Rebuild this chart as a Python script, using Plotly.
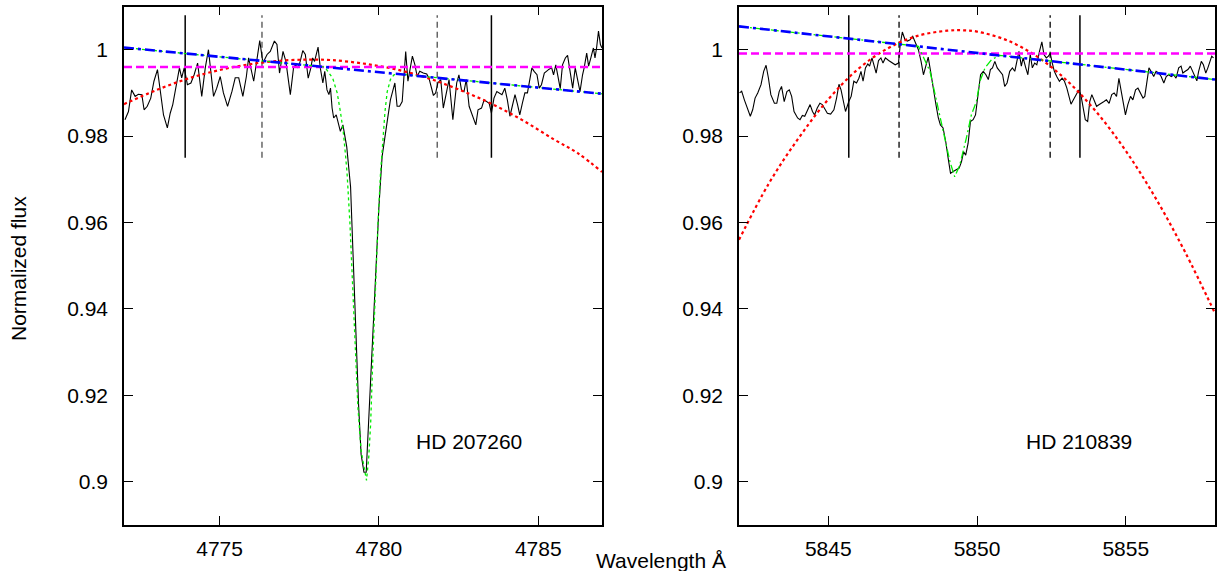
import plotly.graph_objects as go

# ---------------- Left panel: HD 207260 ----------------
left_wave = [
    4772.03, 4772.14, 4772.24, 4772.35, 4772.45, 4772.56, 4772.63, 4772.73, 4772.84, 4772.94,
    4773.05, 4773.13, 4773.24, 4773.36, 4773.45, 4773.53, 4773.64, 4773.74, 4773.81, 4773.89,
    4773.99, 4774.10, 4774.20, 4774.31, 4774.44, 4774.55, 4774.65, 4774.81, 4774.91, 4775.02,
    4775.12, 4775.25, 4775.39, 4775.49, 4775.60, 4775.73, 4775.84, 4775.91, 4776.07, 4776.17,
    4776.26, 4776.36, 4776.49, 4776.59, 4776.72, 4776.80, 4776.88, 4776.99, 4777.08, 4777.22,
    4777.32, 4777.38, 4777.46, 4777.53, 4777.61, 4777.69, 4777.78, 4777.85, 4777.92, 4777.98,
    4778.09, 4778.16, 4778.24, 4778.30, 4778.37, 4778.43, 4778.48, 4778.53, 4778.58, 4778.66,
    4778.72, 4778.79, 4778.87, 4778.93, 4778.99, 4779.11, 4779.18, 4779.26, 4779.36, 4779.44,
    4779.53, 4779.60, 4779.68, 4779.77, 4779.84, 4779.92, 4780.00, 4780.10, 4780.21, 4780.29,
    4780.36, 4780.44, 4780.50, 4780.57, 4780.65, 4780.73, 4780.78, 4780.84, 4780.91, 4780.97,
    4781.05, 4781.13, 4781.20, 4781.28, 4781.39, 4781.50, 4781.57, 4781.71, 4781.78, 4781.85,
    4781.94, 4782.02, 4782.13, 4782.20, 4782.32, 4782.44, 4782.51, 4782.59, 4782.67, 4782.74,
    4782.83, 4782.93, 4783.04, 4783.11, 4783.22, 4783.30, 4783.38, 4783.46, 4783.53, 4783.61,
    4783.70, 4783.78, 4783.86, 4783.95, 4784.03, 4784.11, 4784.19, 4784.27, 4784.35, 4784.42,
    4784.50, 4784.58, 4784.66, 4784.71, 4784.80, 4784.87, 4784.96, 4785.03, 4785.10, 4785.19,
    4785.27, 4785.34, 4785.42, 4785.48, 4785.55, 4785.63, 4785.69, 4785.76, 4785.85, 4785.92,
    4785.99, 4786.08, 4786.16, 4786.23, 4786.31, 4786.39, 4786.44, 4786.52, 4786.58, 4786.65,
    4786.73, 4786.78, 4786.83, 4786.89, 4786.95, 4787.00,
]
left_flux = [
    0.9838, 0.9857, 0.9907, 0.9892, 0.9897, 0.9896, 0.9861, 0.9869, 0.9888, 0.9927,
    0.9954, 0.9904, 0.9849, 0.9819, 0.9853, 0.9873, 0.9915, 0.9958, 0.9935, 0.9958,
    0.9919, 0.9923, 0.9942, 0.9969, 0.9892, 0.9958, 1.0000, 0.9892, 0.9911, 0.9938,
    0.9900, 0.9869, 0.9904, 0.9935, 0.9935, 0.9892, 0.9938, 0.9981, 0.9927, 0.9981,
    1.0021, 0.9969, 0.9989, 0.9996, 1.0020, 1.0012, 0.9946, 0.9996, 0.9973, 0.9896,
    0.9958, 0.9965, 0.9958, 0.9973, 0.9998, 0.9989, 0.9934, 0.9954, 0.9981, 0.9973,
    1.0006, 0.9958, 0.9923, 0.9950, 0.9907, 0.9896, 0.9911, 0.9865, 0.9842, 0.9849,
    0.9834, 0.9811, 0.9826, 0.9803, 0.9775, 0.9683, 0.9536, 0.9358, 0.9180, 0.9064,
    0.9022, 0.9022, 0.9134, 0.9265, 0.9389, 0.9513, 0.9637, 0.9753, 0.9803, 0.9849,
    0.9884, 0.9904, 0.9923, 0.9869, 0.9869, 0.9880, 0.9942, 0.9996, 0.9927, 0.9950,
    0.9985, 0.9965, 0.9938, 0.9950, 0.9946, 0.9944, 0.9934, 0.9894, 0.9900, 0.9923,
    0.9931, 0.9865, 0.9907, 0.9931, 0.9838, 0.9923, 0.9942, 0.9907, 0.9903, 0.9931,
    0.9869, 0.9849, 0.9826, 0.9861, 0.9865, 0.9884, 0.9880, 0.9876, 0.9853, 0.9888,
    0.9903, 0.9900, 0.9896, 0.9911, 0.9884, 0.9846, 0.9873, 0.9896, 0.9873, 0.9849,
    0.9876, 0.9900, 0.9900, 0.9919, 0.9958, 0.9950, 0.9942, 0.9911, 0.9919, 0.9946,
    0.9951, 0.9955, 0.9958, 0.9942, 0.9965, 0.9938, 0.9910, 0.9965, 0.9981, 0.9987,
    0.9954, 0.9911, 0.9958, 0.9931, 0.9903, 0.9942, 0.9958, 0.9992, 0.9962, 0.9981,
    1.0004, 0.9981, 1.0004, 1.0043, 1.0012, 1.0004,
]
left_fit_wave = [
    4772.0, 4778.30, 4778.55, 4778.69, 4778.79, 4778.88, 4778.95, 4779.00, 4779.09, 4779.16,
    4779.24, 4779.34, 4779.44, 4779.55, 4779.61, 4779.68, 4779.74, 4779.81, 4779.89, 4779.97,
    4780.05, 4780.12, 4780.19, 4780.26, 4780.36, 4780.47, 4780.60, 4787.0,
]
left_fit_flux = [
    1.0005, 0.9960, 0.9934, 0.9900, 0.9857, 0.9811, 0.9757, 0.9714, 0.9598, 0.9482,
    0.9343, 0.9173, 0.9072, 0.9026, 0.9003, 0.9057, 0.9134, 0.9289, 0.9467, 0.9598,
    0.9714, 0.9791, 0.9857, 0.9903, 0.9931, 0.9942, 0.9944, 0.9898,
]
left_poly_wave = [4772.0, 4773.0, 4774.0, 4775.0, 4776.0, 4777.0, 4777.8, 4778.5, 4779.5,
                  4780.5, 4781.5, 4782.5, 4783.5, 4784.5, 4785.5, 4786.25, 4787.0]
left_poly_flux = [0.9874, 0.9906, 0.9933, 0.9953, 0.9967, 0.9975, 0.9977, 0.9976, 0.9968,
                  0.9955, 0.9935, 0.9908, 0.9876, 0.9837, 0.9792, 0.9760, 0.9717]
left_cont_wave = [4772.0, 4787.0]
left_cont_flux = [1.0005, 0.9898]
left_flat_level = 0.9960
left_solid_limits = [4773.92, 4783.53]
left_dashed_limits = [4776.33, 4781.83]

# ---------------- Right panel: HD 210839 ----------------
right_wave = [
    5842.02, 5842.09, 5842.18, 5842.27, 5842.38, 5842.46, 5842.54, 5842.63, 5842.74, 5842.83,
    5842.91, 5842.99, 5843.07, 5843.19, 5843.27, 5843.35, 5843.43, 5843.52, 5843.61, 5843.69,
    5843.77, 5843.85, 5843.97, 5844.05, 5844.13, 5844.21, 5844.30, 5844.39, 5844.47, 5844.54,
    5844.63, 5844.72, 5844.80, 5844.88, 5844.97, 5845.08, 5845.19, 5845.28, 5845.36, 5845.43,
    5845.50, 5845.58, 5845.69, 5845.77, 5845.86, 5845.95, 5846.03, 5846.10, 5846.17, 5846.25,
    5846.33, 5846.39, 5846.47, 5846.55, 5846.61, 5846.69, 5846.77, 5846.84, 5846.92, 5847.03,
    5847.14, 5847.25, 5847.36, 5847.42, 5847.49, 5847.58, 5847.66, 5847.75, 5847.84, 5847.92,
    5848.03, 5848.12, 5848.20, 5848.29, 5848.36, 5848.44, 5848.53, 5848.62, 5848.70, 5848.77,
    5848.86, 5848.95, 5849.03, 5849.11, 5849.20, 5849.31, 5849.40, 5849.48, 5849.55, 5849.62,
    5849.70, 5849.78, 5849.87, 5849.95, 5850.04, 5850.12, 5850.21, 5850.30, 5850.38, 5850.45,
    5850.52, 5850.60, 5850.68, 5850.77, 5850.86, 5850.93, 5851.01, 5851.10, 5851.19, 5851.27,
    5851.35, 5851.41, 5851.49, 5851.55, 5851.64, 5851.71, 5851.79, 5851.86, 5851.94, 5852.01,
    5852.10, 5852.18, 5852.25, 5852.33, 5852.40, 5852.46, 5852.53, 5852.60, 5852.68, 5852.77,
    5852.86, 5852.94, 5853.02, 5853.08, 5853.16, 5853.24, 5853.33, 5853.42, 5853.49, 5853.57,
    5853.64, 5853.72, 5853.79, 5853.86, 5853.94, 5854.02, 5854.11, 5854.20, 5854.27, 5854.35,
    5854.44, 5854.53, 5854.61, 5854.69, 5854.77, 5854.85, 5854.92, 5854.99, 5855.07, 5855.16,
    5855.24, 5855.33, 5855.41, 5855.50, 5855.58, 5855.64, 5855.72, 5855.78, 5855.85, 5855.94,
    5856.02, 5856.11, 5856.19, 5856.28, 5856.36, 5856.44, 5856.53, 5856.61, 5856.69, 5856.78,
    5856.86, 5856.92, 5857.00, 5857.09, 5857.17, 5857.25, 5857.31, 5857.39, 5857.45, 5857.54,
    5857.61, 5857.69, 5857.76, 5857.84, 5857.89, 5857.95,
]
right_flux = [
    0.9900, 0.9904, 0.9884, 0.9865, 0.9846, 0.9861, 0.9888, 0.9900, 0.9919, 0.9950,
    0.9964, 0.9934, 0.9896, 0.9876, 0.9876, 0.9903, 0.9915, 0.9880, 0.9903, 0.9907,
    0.9892, 0.9857, 0.9842, 0.9838, 0.9848, 0.9846, 0.9861, 0.9873, 0.9857, 0.9849,
    0.9865, 0.9876, 0.9873, 0.9865, 0.9853, 0.9851, 0.9861, 0.9888, 0.9920, 0.9907,
    0.9884, 0.9857, 0.9880, 0.9892, 0.9927, 0.9923, 0.9934, 0.9950, 0.9927, 0.9958,
    0.9967, 0.9962, 0.9981, 0.9958, 0.9946, 0.9975, 0.9981, 0.9969, 0.9981, 0.9975,
    0.9969, 0.9965, 0.9969, 1.0012, 1.0041, 1.0023, 1.0020, 1.0023, 1.0031, 1.0016,
    1.0000, 0.9973, 0.9942, 0.9965, 0.9983, 0.9950, 0.9907, 0.9873, 0.9842, 0.9826,
    0.9819, 0.9787, 0.9749, 0.9714, 0.9718, 0.9722, 0.9726, 0.9741, 0.9764, 0.9756,
    0.9783, 0.9834, 0.9838, 0.9849, 0.9903, 0.9942, 0.9950, 0.9942, 0.9931, 0.9954,
    0.9958, 0.9973, 0.9958, 0.9950, 0.9942, 0.9915, 0.9923, 0.9950, 0.9958, 0.9950,
    0.9977, 0.9996, 0.9962, 0.9981, 0.9958, 0.9942, 0.9989, 0.9958, 0.9969, 0.9965,
    0.9996, 1.0018, 0.9989, 0.9981, 0.9985, 0.9992, 0.9969, 0.9950, 0.9938, 0.9927,
    0.9934, 0.9927, 0.9911, 0.9892, 0.9874, 0.9884, 0.9896, 0.9907, 0.9896, 0.9865,
    0.9838, 0.9834, 0.9880, 0.9896, 0.9884, 0.9869, 0.9873, 0.9876, 0.9880, 0.9884,
    0.9876, 0.9896, 0.9900, 0.9892, 0.9934, 0.9903, 0.9873, 0.9849, 0.9873, 0.9892,
    0.9884, 0.9907, 0.9911, 0.9900, 0.9888, 0.9892, 0.9934, 0.9958, 0.9950, 0.9938,
    0.9950, 0.9946, 0.9938, 0.9923, 0.9938, 0.9942, 0.9938, 0.9942, 0.9934, 0.9958,
    0.9962, 0.9946, 0.9950, 0.9954, 0.9962, 0.9950, 0.9938, 0.9928, 0.9950, 0.9973,
    0.9965, 0.9946, 0.9958, 0.9973, 0.9985, 0.9981,
]
right_fit_wave = [5842.0, 5848.03, 5848.42, 5848.64, 5848.86, 5849.09, 5849.25, 5849.42,
                  5849.64, 5849.81, 5849.98, 5850.10, 5850.27, 5850.49, 5850.77, 5858.0]
right_fit_flux = [1.0054, 1.0008, 0.9950, 0.9880, 0.9811, 0.9741, 0.9706, 0.9733,
                  0.9795, 0.9849, 0.9880, 0.9927, 0.9958, 0.9977, 0.9987, 0.9931]
right_poly_wave = [5842.0, 5843.0, 5844.0, 5845.0, 5846.0, 5847.0, 5848.0, 5849.0, 5849.5,
                   5850.0, 5851.0, 5852.0, 5853.0, 5854.0, 5855.0, 5856.0, 5857.0, 5858.0]
right_poly_flux = [0.9560, 0.9690, 0.9795, 0.9885, 0.9955, 1.0003, 1.0032, 1.0044, 1.0045,
                   1.0042, 1.0022, 0.9985, 0.9930, 0.9857, 0.9766, 0.9657, 0.9531, 0.9390]
right_cont_wave = [5842.0, 5858.0]
right_cont_flux = [1.0054, 0.9931]
right_flat_level = 0.9991
right_solid_limits = [5845.69, 5853.46]
right_dashed_limits = [5847.38, 5852.46]

limit_span = [0.975, 1.008]
star_names = ["HD 207260", "HD 210839"]
star_label_pos = [(4782.82, 0.9093), (5853.42, 0.9093)]
x_ranges = [[4772, 4787], [5842, 5858]]
x_ticks = [[4775, 4780, 4785], [5845, 5850, 5855]]
y_range = [0.89, 1.01]
y_ticks = [0.9, 0.92, 0.94, 0.96, 0.98, 1.0]
y_ticktext = ["0.9", "0.92", "0.94", "0.96", "0.98", "1"]

FONT = "Liberation Sans, Arial, sans-serif"
FS = 21

fig = go.Figure()


def line(x, y, xa, ya, color, width, dash="solid", shape="linear"):
    fig.add_trace(go.Scatter(x=x, y=y, mode="lines", xaxis=xa, yaxis=ya,
                             line=dict(color=color, width=width, dash=dash, shape=shape),
                             showlegend=False, hoverinfo="skip"))


panels = [
    ("x", "y", left_wave, left_flux, left_fit_wave, left_fit_flux, left_poly_wave, left_poly_flux,
     left_cont_wave, left_cont_flux, left_flat_level, left_solid_limits, left_dashed_limits,
     "dot", "#666666"),
    ("x2", "y2", right_wave, right_flux, right_fit_wave, right_fit_flux, right_poly_wave,
     right_poly_flux, right_cont_wave, right_cont_flux, right_flat_level, right_solid_limits,
     right_dashed_limits, "8px,3px,2px,3px", "#222222"),
]

for i, (xa, ya, w, f, fw, ff, pw, pf, cw, cf, flat, sl, dl, fitdash, dcol) in enumerate(panels):
    for v in sl:
        line([v, v], limit_span, xa, ya, "black", 1.5)
    for v in dl:
        line([v, v], limit_span, xa, ya, dcol, 1.5, dash="6px,4px")
    line(w, f, xa, ya, "black", 1.1)
    line(pw, pf, xa, ya, "#ff0000", 2.2, dash="dot", shape="spline")
    line(x_ranges[i], [flat, flat], xa, ya, "#ff00ff", 2.5, dash="8px,4px")
    line(fw, ff, xa, ya, "#00ee00", 1.3, dash=fitdash)
    line(cw, cf, xa, ya, "#0000ff", 2.6, dash="10px,4px,3px,4px")
    fig.add_annotation(x=star_label_pos[i][0], y=star_label_pos[i][1], xref=xa, yref=ya,
                       text=star_names[i], showarrow=False,
                       font=dict(family=FONT, size=FS, color="black"))

axis_common = dict(showline=True, linecolor="black", linewidth=1.6, mirror="ticks",
                   ticks="inside", ticklen=9, tickwidth=1.2, tickcolor="black",
                   showgrid=False, zeroline=False,
                   tickfont=dict(family=FONT, size=FS, color="black"))

fig.update_layout(
    width=1218, height=571,
    margin=dict(l=0, r=0, t=0, b=0),
    paper_bgcolor="white", plot_bgcolor="white",
    xaxis=dict(domain=[124 / 1218, 602 / 1218], range=x_ranges[0], tickvals=x_ticks[0],
               anchor="y", ticklabelstandoff=4, **axis_common),
    yaxis=dict(domain=[46 / 571, 564.5 / 571], range=y_range, tickvals=y_ticks,
               ticktext=y_ticktext, anchor="x", ticklabelstandoff=10, **axis_common),
    xaxis2=dict(domain=[739 / 1218, 1215 / 1218], range=x_ranges[1], tickvals=x_ticks[1],
                anchor="y2", ticklabelstandoff=4, **axis_common),
    yaxis2=dict(domain=[46 / 571, 564.5 / 571], range=y_range, tickvals=y_ticks,
                ticktext=y_ticktext, anchor="x2", ticklabelstandoff=10, **axis_common),
)

fig.add_annotation(x=18 / 1218, y=302 / 571, xref="paper", yref="paper",
                   xanchor="center", yanchor="middle",
                   text="Normalized flux", textangle=-90, showarrow=False,
                   font=dict(family=FONT, size=FS, color="black"))
fig.add_annotation(x=661 / 1218, y=11 / 571, xref="paper", yref="paper",
                   xanchor="center", yanchor="middle",
                   text="Wavelength Å", showarrow=False,
                   font=dict(family=FONT, size=FS, color="black"))

fig.write_html("out.html", config={"displayModeBar": False},
               post_script="document.body.style.margin='0';document.body.style.overflow='hidden';")
